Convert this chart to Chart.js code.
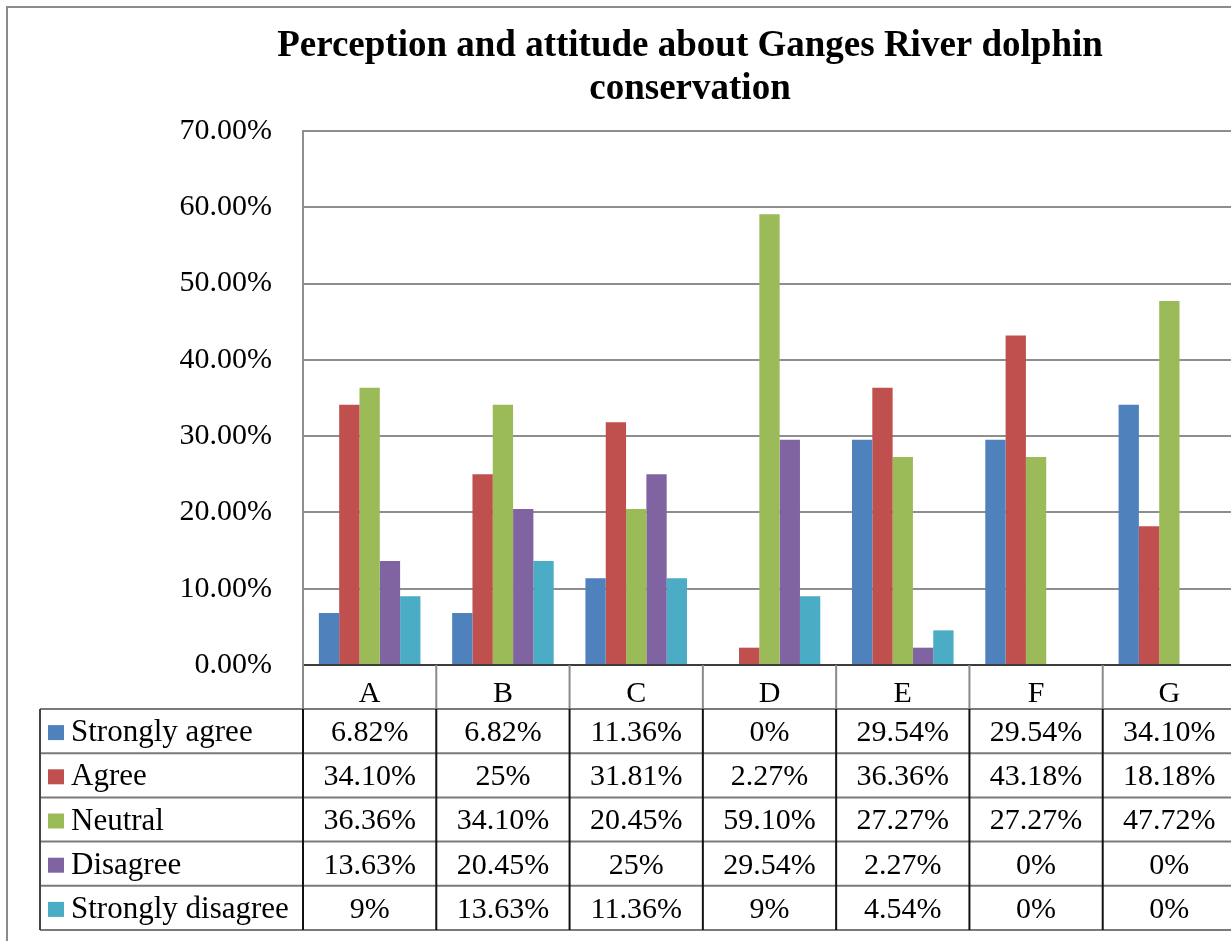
<!DOCTYPE html>
<html>
<head>
<meta charset="utf-8">
<title>Perception and attitude about Ganges River dolphin conservation</title>
<script src="https://cdn.jsdelivr.net/npm/chart.js@4/dist/chart.umd.min.js"></script>
<style>
  html, body { margin: 0; padding: 0; background: #ffffff; overflow: hidden; }
  #wrap { width: 1237px; height: 941px; }
  canvas { display: block; }
</style>
</head>
<body>
<div id="wrap"><canvas id="chart" width="1237" height="941"></canvas></div>
<script>
// Survey statements (columns of the data table)
const categories = ['A', 'B', 'C', 'D', 'E', 'F', 'G'];

// Response shares in percent, kept as written in the data table
const stronglyAgree    = ['6.82', '6.82', '11.36', '0', '29.54', '29.54', '34.10'];
const agree            = ['34.10', '25', '31.81', '2.27', '36.36', '43.18', '18.18'];
const neutral          = ['36.36', '34.10', '20.45', '59.10', '27.27', '27.27', '47.72'];
const disagree         = ['13.63', '20.45', '25', '29.54', '2.27', '0', '0'];
const stronglyDisagree = ['9', '13.63', '11.36', '9', '4.54', '0', '0'];

const seriesNames  = ['Strongly agree', 'Agree', 'Neutral', 'Disagree', 'Strongly disagree'];
const seriesValues = [stronglyAgree, agree, neutral, disagree, stronglyDisagree];
const seriesColors = ['#4F81BD', '#C0504D', '#9BBB59', '#8064A2', '#4BACC6'];

const titleLines = ['Perception and attitude about Ganges River dolphin', 'conservation'];

const FONT = '"Liberation Serif", "Times New Roman", serif';

// Title drawn centred over the plot block
const titlePlugin = {
  id: 'titleLines',
  afterDraw(chart) {
    const ctx = chart.ctx;
    ctx.save();
    ctx.fillStyle = '#000';
    ctx.font = 'bold 37px ' + FONT;
    ctx.textAlign = 'center';
    ctx.textBaseline = 'alphabetic';
    ctx.fillText(titleLines[0], 690, 56);
    ctx.fillText(titleLines[1], 690, 99);
    ctx.restore();
  }
};

// Data table under the category axis, with legend keys in the first column
const tablePlugin = {
  id: 'dataTable',
  afterDraw(chart) {
    const ctx = chart.ctx;
    const xs = chart.scales.x;
    const area = chart.chartArea;
    const headTop = area.bottom;
    const headBottom = xs.bottom;
    const rowH = 44.2;
    const tableLeft = 40;
    const rows = seriesNames.length;
    const tableBottom = headBottom + rows * rowH;
    const bounds = [];
    for (let i = 0; i <= categories.length; i++) bounds.push(xs.getPixelForValue(i - 0.5));

    ctx.save();
    // column separators in the header row
    ctx.lineWidth = 2;
    ctx.strokeStyle = '#8a8a8a';
    bounds.forEach(bx => {
      ctx.beginPath(); ctx.moveTo(bx, headTop); ctx.lineTo(bx, headBottom); ctx.stroke();
    });
    // row rules
    ctx.strokeStyle = '#7a7a7a';
    for (let r = 0; r <= rows; r++) {
      const y = headBottom + r * rowH;
      ctx.beginPath(); ctx.moveTo(tableLeft, y); ctx.lineTo(xs.right + 2, y); ctx.stroke();
    }
    // column separators in the body
    ctx.strokeStyle = '#111';
    bounds.forEach(bx => {
      ctx.beginPath(); ctx.moveTo(bx, headBottom); ctx.lineTo(bx, tableBottom); ctx.stroke();
    });
    ctx.strokeStyle = '#444';
    ctx.beginPath(); ctx.moveTo(tableLeft, headBottom); ctx.lineTo(tableLeft, tableBottom); ctx.stroke();

    // row headers and cell values
    ctx.textBaseline = 'middle';
    for (let r = 0; r < rows; r++) {
      const cy = headBottom + r * rowH + rowH / 2;
      ctx.fillStyle = seriesColors[r];
      ctx.fillRect(48, cy - 6, 16, 15);
      ctx.fillStyle = '#000';
      ctx.font = '31px ' + FONT;
      ctx.textAlign = 'left';
      ctx.fillText(seriesNames[r], 71, cy + 2);
      ctx.font = '30px ' + FONT;
      ctx.textAlign = 'center';
      seriesValues[r].forEach((v, i) => {
        ctx.fillText(v + '%', xs.getPixelForValue(i), cy + 2);
      });
    }
    ctx.restore();
  }
};

// Page frame
const framePlugin = {
  id: 'frame',
  afterDraw(chart) {
    const ctx = chart.ctx;
    ctx.save();
    ctx.strokeStyle = '#8c8c8c';
    ctx.lineWidth = 2;
    ctx.beginPath();
    ctx.moveTo(7, chart.height + 2);
    ctx.lineTo(7, 7);
    ctx.lineTo(chart.width + 2, 7);
    ctx.stroke();
    ctx.restore();
  }
};

new Chart(document.getElementById('chart'), {
  type: 'bar',
  data: {
    labels: categories,
    datasets: seriesNames.map((name, k) => ({
      label: name,
      data: seriesValues[k].map(Number),
      backgroundColor: seriesColors[k],
      borderWidth: 0
    }))
  },
  options: {
    responsive: false,
    devicePixelRatio: 1,
    animation: false,
    categoryPercentage: 0.762,
    barPercentage: 1.0,
    layout: { padding: { top: 131, right: 1, bottom: 232, left: 0 } },
    plugins: {
      legend: { display: false },
      title: { display: false },
      tooltip: { enabled: false }
    },
    scales: {
      x: {
        offset: true,
        grid: { display: false, drawTicks: false },
        border: { display: true, color: '#3c3c3c', width: 2 },
        ticks: { color: '#000', font: { family: FONT, size: 30 }, padding: 11, maxRotation: 0 },
        afterFit(scale) { scale.height = 44; }
      },
      y: {
        min: 0,
        max: 70,
        grid: { color: '#8e8e8e', lineWidth: 2, drawTicks: false },
        border: { display: true, color: '#8e8e8e', width: 2 },
        ticks: {
          stepSize: 10,
          color: '#000',
          padding: 31,
          font: { family: FONT, size: 30 },
          callback: v => Number(v).toFixed(2) + '%'
        },
        afterFit(scale) { scale.width = 303; }
      }
    }
  },
  plugins: [titlePlugin, tablePlugin, framePlugin]
});
</script>
</body>
</html>
